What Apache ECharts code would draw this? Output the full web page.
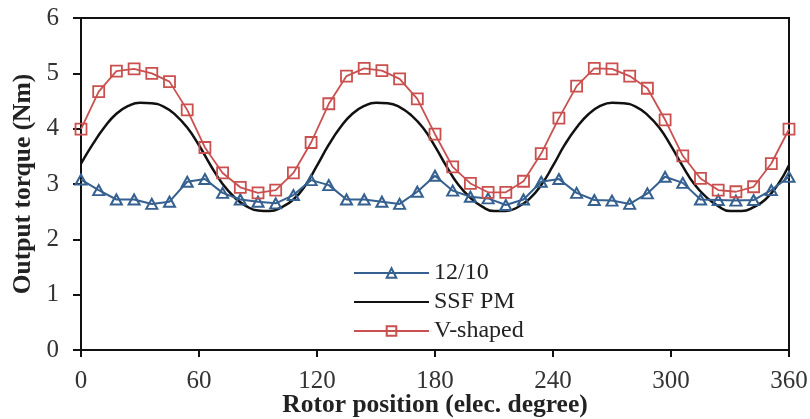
<!DOCTYPE html>
<html>
<head>
<meta charset="utf-8">
<script src="https://cdn.jsdelivr.net/npm/echarts@6/dist/echarts.min.js"></script>
<style>
html,body{margin:0;padding:0;background:#fff;}
#c{width:810px;height:419px;}
</style>
</head>
<body>
<div id="c"></div>
<script>
// Sampled angles (elec. degree)
var anglesMarked = [0,9,18,27,36,45,54,63,72,81,90,99,108,117,126,135,144,153,162,171,180,189,198,207,216,225,234,243,252,261,270,279,288,297,306,315,324,333,342,351,360];
var anglesSmooth = [0,6,12,18,24,30,36,42,48,54,60,66,72,78,84,90,96,102,108,114,120,126,132,138,144,150,156,162,168,174,180,186,192,198,204,210,216,222,228,234,240,246,252,258,264,270,276,282,288,294,300,306,312,318,324,330,336,342,348,354,360];

var torque1210 = [3.08,2.89,2.72,2.72,2.64,2.68,3.04,3.09,2.84,2.72,2.68,2.65,2.80,3.07,2.98,2.72,2.72,2.68,2.64,2.86,3.15,2.88,2.77,2.74,2.62,2.72,3.04,3.09,2.84,2.71,2.70,2.64,2.83,3.13,3.02,2.72,2.71,2.70,2.71,2.89,3.13];
var torqueSSFPM = [3.37,3.72,4.03,4.27,4.41,4.47,4.46,4.40,4.25,4.02,3.70,3.33,3.00,2.76,2.60,2.52,2.51,2.58,2.72,2.97,
                   3.33,3.71,4.03,4.27,4.41,4.47,4.46,4.39,4.24,4.01,3.68,3.31,2.98,2.75,2.59,2.51,2.51,2.58,2.73,2.98,
                   3.33,3.71,4.02,4.26,4.41,4.47,4.46,4.40,4.25,4.02,3.69,3.32,2.99,2.76,2.60,2.51,2.51,2.58,2.72,2.97,3.34];
var torqueV = [3.99,4.67,5.04,5.08,5.00,4.85,4.34,3.66,3.20,2.94,2.84,2.89,3.20,3.75,4.45,4.95,5.09,5.05,4.90,4.54,3.90,3.31,3.01,2.85,2.85,3.05,3.55,4.19,4.77,5.09,5.08,4.95,4.73,4.16,3.51,3.10,2.89,2.86,2.95,3.37,3.99];

var seriesNames = ['12/10','SSF PM','V-shaped'];
var xTitle = 'Rotor position (elec. degree)';
var yTitle = 'Output torque (Nm)';

function pairs(xs, ys){ return xs.map(function(x,i){ return [x, ys[i]]; }); }

var FONT = '"Liberation Serif","Times New Roman",serif';
var chart = echarts.init(document.getElementById('c'), null, {renderer:'canvas'});
chart.setOption({
  animation:false,
  backgroundColor:'#ffffff',
  grid:{left:81,right:21,top:18,bottom:69,containLabel:false,outerBoundsMode:'none',show:true,borderColor:'#111',borderWidth:2,backgroundColor:'transparent'},
  legend:{
    orient:'vertical', left:348, top:256, itemWidth:75, itemHeight:12, itemGap:5,
    textStyle:{fontFamily:FONT,fontSize:24,color:'#222'},
    data:[{name:seriesNames[0]},{name:seriesNames[1],itemStyle:{opacity:0}},{name:seriesNames[2]}]
  },
  xAxis:{
    type:'value', min:0, max:360, interval:60,
    axisLine:{show:true,onZero:false,lineStyle:{color:'#111',width:2}},
    axisTick:{show:true,inside:false,length:7,lineStyle:{color:'#111',width:2}},
    splitLine:{show:false},
    axisLabel:{fontFamily:FONT,fontSize:25,color:'#333',margin:19},
    name:xTitle, nameLocation:'middle', nameGap:42, nameMoveOverlap:false,
    nameTextStyle:{fontFamily:FONT,fontSize:25.5,fontWeight:'bold',color:'#222'}
  },
  yAxis:{
    type:'value', min:0, max:6, interval:1,
    axisLine:{show:true,lineStyle:{color:'#111',width:2}},
    axisTick:{show:true,inside:false,length:8,lineStyle:{color:'#111',width:2}},
    splitLine:{show:false},
    axisLabel:{fontFamily:FONT,fontSize:25,color:'#333',margin:22},
    name:yTitle, nameLocation:'middle', nameGap:45, nameRotate:90, nameMoveOverlap:false,
    nameTextStyle:{fontFamily:FONT,fontSize:25.5,fontWeight:'bold',color:'#222'}
  },
  series:[
    {
      name:seriesNames[0], type:'line', data:pairs(anglesMarked, torque1210),
      symbol:'triangle', symbolSize:[11,10],
      lineStyle:{color:'#35608f',width:2},
      itemStyle:{color:'rgba(255,255,255,0)',borderColor:'#35608f',borderWidth:2},
      z:3
    },
    {
      name:seriesNames[1], type:'line', data:pairs(anglesSmooth, torqueSSFPM),
      smooth:true, symbol:'none', showSymbol:false,
      lineStyle:{color:'#111',width:2.5},
      itemStyle:{color:'#111'},
      z:2
    },
    {
      name:seriesNames[2], type:'line', data:pairs(anglesMarked, torqueV),
      symbol:'rect', symbolSize:11,
      lineStyle:{color:'#c9504f',width:1.8},
      itemStyle:{color:'rgba(255,255,255,0)',borderColor:'#c9504f',borderWidth:1.8},
      z:4
    }
  ]
});
</script>
</body>
</html>
